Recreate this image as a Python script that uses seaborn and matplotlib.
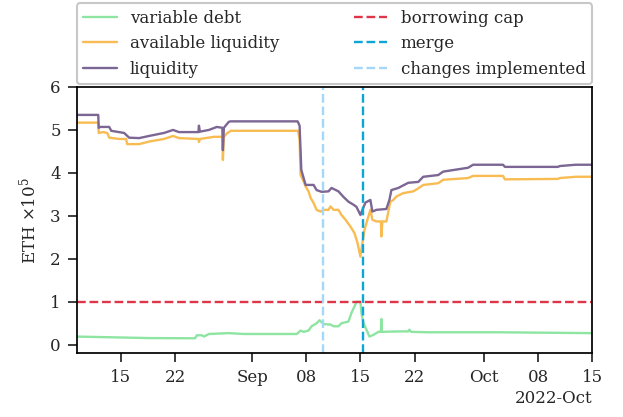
import pandas as pd
import matplotlib
matplotlib.use("Agg")
import matplotlib.pyplot as plt
import matplotlib.dates as mdates
import seaborn as sns

# dias desde 2022-08-09, valores em ETH x 1e5
inicio = pd.Timestamp("2022-08-09")

dias_liq = [0.27, 3.06, 3.12, 3.32, 4.48, 4.74, 6.41, 7.06, 8.35, 9.64, 11.57, 12.74, 13.51,
            16.03, 16.09, 16.22, 17.38, 18.41, 19.12, 19.19, 19.32, 19.96, 20.22, 28.86, 29.12,
            29.34, 29.64, 29.9, 30.93, 31.32, 31.96, 32.86, 33.25, 34.15, 34.8, 35.44, 36.09,
            36.48, 36.99, 37.25, 37.64, 38.28, 38.54, 39.06, 40.35, 40.74, 41.0, 41.9, 42.54,
            43.19, 44.48, 45.12, 47.06, 47.7, 50.93, 51.57, 55.44, 55.7, 62.54, 62.8, 64.86, 67.0]
liquidez = [5.35, 5.35, 5.05, 5.07, 5.07, 4.98, 4.93, 4.82, 4.81, 4.86, 4.93, 5.0, 4.95,
            4.95, 5.1, 4.96, 5.0, 5.07, 5.05, 4.53, 5.05, 5.19, 5.2, 5.2, 5.1,
            4.07, 3.88, 3.72, 3.72, 3.6, 3.56, 3.57, 3.65, 3.57, 3.44, 3.33, 3.26,
            3.21, 3.02, 3.14, 3.31, 3.37, 3.10, 3.14, 3.16, 3.37, 3.6, 3.65, 3.71,
            3.77, 3.79, 3.91, 3.95, 4.03, 4.12, 4.19, 4.19, 4.14, 4.14, 4.16, 4.19, 4.19]

dias_disp = [0.27, 3.06, 3.12, 3.7, 4.22, 4.48, 5.77, 6.67, 6.8, 8.35, 9.64, 11.57, 12.74,
             13.51, 16.03, 16.09, 16.22, 18.03, 19.12, 19.19, 19.32, 19.7, 20.22, 28.93, 29.12,
             29.25, 29.64, 29.9, 30.28, 30.54, 30.93, 31.32, 31.83, 32.22, 32.86, 33.12, 33.51,
             34.15, 34.54, 35.06, 35.7, 36.22, 36.61, 36.99, 37.25, 37.51, 37.9, 38.28, 38.54,
             39.06, 39.64, 39.7, 39.83, 40.35, 40.61, 40.86, 41.25, 41.64, 42.54, 43.83, 44.48,
             45.12, 47.06, 47.7, 50.93, 51.57, 55.44, 55.7, 62.54, 62.8, 64.86, 67.0]
disponivel = [5.17, 5.17, 4.93, 4.95, 4.93, 4.82, 4.79, 4.79, 4.67, 4.67, 4.73, 4.79, 4.86,
              4.81, 4.79, 4.72, 4.79, 4.84, 4.84, 4.3, 4.84, 4.92, 4.98, 4.98, 4.77,
              3.95, 3.8, 3.68, 3.57, 3.42, 3.3, 3.14, 3.10, 3.14, 3.14, 3.22, 3.14,
              3.14, 3.02, 2.91, 2.75, 2.6, 2.37, 2.05, 2.37, 2.67, 2.91, 3.14, 2.91,
              2.87, 2.87, 2.52, 2.87, 2.87, 3.1, 3.33, 3.37, 3.45, 3.53, 3.57, 3.64,
              3.72, 3.76, 3.84, 3.88, 3.93, 3.93, 3.85, 3.86, 3.88, 3.91, 3.91]

dias_div = [0.27, 9.64, 15.57, 15.83, 16.48, 16.74, 17.38, 19.96, 21.9, 28.74, 29.25, 29.64,
            30.28, 30.67, 31.32, 31.7, 32.22, 33.12, 33.51, 34.15, 34.54, 35.44, 35.83, 36.22,
            36.48, 36.99, 37.12, 37.38, 37.77, 38.16, 38.67, 39.32, 39.64, 39.7, 39.77, 41.9,
            43.19, 43.32, 43.57, 45.77, 54.8, 67.0]
divida = [0.19, 0.155, 0.15, 0.22, 0.22, 0.19, 0.25, 0.27, 0.25, 0.25, 0.33, 0.3,
          0.33, 0.43, 0.5, 0.57, 0.48, 0.47, 0.43, 0.43, 0.5, 0.54, 0.74, 0.89,
          1.0, 1.0, 0.74, 0.51, 0.35, 0.19, 0.23, 0.3, 0.3, 0.6, 0.3, 0.31,
          0.31, 0.35, 0.3, 0.29, 0.29, 0.27]

teto = 1.0
data_merge = pd.Timestamp("2022-09-15 06:42")
data_mudancas = pd.Timestamp("2022-09-10 04:00")

def para_datas(dias):
    return inicio + pd.to_timedelta(dias, unit="D")

sns.set_theme(style="ticks", font="serif")
plt.rcParams["font.family"] = ["DejaVu Serif"]
plt.rcParams["mathtext.fontset"] = "dejavuserif"

fig = plt.figure(figsize=(6.23, 4.17), dpi=100)
ax = fig.add_axes([0.1231, 0.1527, 0.8276, 0.6387])

sns.lineplot(x=para_datas(dias_div), y=divida, ax=ax, color="#8de5a1", lw=1.7, label="variable debt")
sns.lineplot(x=para_datas(dias_disp), y=disponivel, ax=ax, color="#f8bc52", lw=1.7, label="available liquidity")
sns.lineplot(x=para_datas(dias_liq), y=liquidez, ax=ax, color="#7b6694", lw=1.7, label="liquidity")
ax.axhline(teto, color="#de3549", ls="--", lw=1.7, label="borrowing cap")
ax.axvline(data_merge, color="#0ba6d3", ls="--", lw=1.7, label="merge")
ax.axvline(data_mudancas, color="#a3d8fb", ls="--", lw=1.7, label="changes implemented")

locator = mdates.AutoDateLocator()
ax.xaxis.set_major_locator(locator)
ax.xaxis.set_major_formatter(mdates.ConciseDateFormatter(locator))
ax.set_xlim(para_datas([0.27])[0], para_datas([67.0])[0])
ax.set_ylim(-0.2, 6)
ax.set_ylabel(r"ETH $\times 10^5$", fontsize=12, labelpad=8)
ax.set_xlabel("")
ax.tick_params(labelsize=12, length=6.5, width=1.25, pad=5)
for s in ax.spines.values():
    s.set_color("black")
    s.set_linewidth(1.25)
ax.xaxis.get_offset_text().set_fontsize(12)

leg = ax.legend(ncol=2, loc="lower left", bbox_to_anchor=(0, 1.01, 1, 0.2), mode="expand",
                fontsize=12, frameon=True, fancybox=True, borderaxespad=0.0)
leg.get_frame().set_edgecolor("#bbbbbb")
leg.get_frame().set_linewidth(1.5)

fig.savefig("out.png", dpi=100)
